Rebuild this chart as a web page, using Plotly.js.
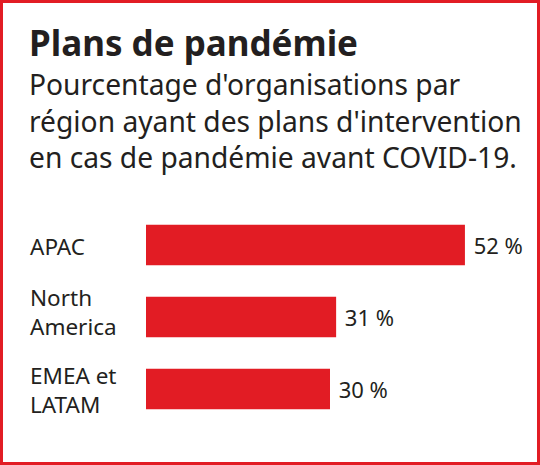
<!DOCTYPE html>
<html><head><meta charset="utf-8">
<script src="https://cdn.plot.ly/plotly-3.0.1.min.js"></script>
<style>body{margin:0;background:#fff}#c{width:540px;height:465px}</style>
</head><body><div id="c"></div>
<script>
const regions = ["APAC", "North America", "EMEA et LATAM"];
const regionLabels = ["APAC", "North<br>America", "EMEA et<br>LATAM"];
const values = [52, 31, 30];
const titleText = "Plans de pandémie";
const subtitleLines = ["Pourcentage d'organisations par",
                       "région ayant des plans d'intervention",
                       "en cas de pandémie avant COVID-19."];

const RED = "#e21c24";
const INK = "#231f20";
const FONT = "Noto Sans, Open Sans, sans-serif";
const W = 540, H = 465, L = 146, R = 26, T = 209, B = 40;
const pw = W - L - R, ph = H - T - B;
const px = x => (x - L) / pw;
const py = y => (H - B - y) / ph;

const annotations = [
  {text: "<b>" + titleText + "</b>", xref: "paper", yref: "paper", x: px(27), y: py(42),
   xanchor: "left", yanchor: "middle", showarrow: false, font: {family: FONT, size: 35, color: INK}},
  {text: subtitleLines.join("<br>"), xref: "paper", yref: "paper", x: px(27), y: py(120.5),
   xanchor: "left", yanchor: "middle", align: "left", showarrow: false,
   font: {family: FONT, size: 28.2, color: INK}}
];
regions.forEach((r, i) => {
  annotations.push({text: regionLabels[i], xref: "paper", yref: "y", x: px(28), y: r,
    xanchor: "left", yanchor: "middle", align: "left", showarrow: false,
    yshift: i === 1 ? 5 : -1,
    font: {family: FONT, size: 22.5, color: INK}});
});

Plotly.newPlot("c", [{
  type: "bar", orientation: "h", y: regions, x: values,
  marker: {color: RED}, width: 0.56,
  texttemplate: "\u00a0%{x} %", textposition: "outside", cliponaxis: false, constraintext: "none",
  textfont: {family: FONT, size: 22, color: INK}, hoverinfo: "none"
}], {
  width: W, height: H, margin: {l: L, r: R, t: T, b: B},
  paper_bgcolor: "#fff", plot_bgcolor: "#fff", showlegend: false,
  xaxis: {range: [0, 60], visible: false, fixedrange: true},
  yaxis: {type: "category", categoryarray: regions, autorange: "reversed", showticklabels: false,
          showgrid: false, zeroline: false, showline: false, ticks: ""},
  annotations: annotations,
  shapes: [{type: "rect", xref: "paper", yref: "paper",
    x0: px(1.5), x1: px(W - 1.5), y0: py(H - 1.5), y1: py(1.5),
    line: {color: RED, width: 3}, fillcolor: "rgba(0,0,0,0)"}]
}, {displayModeBar: false, staticPlot: true});
</script></body></html>
